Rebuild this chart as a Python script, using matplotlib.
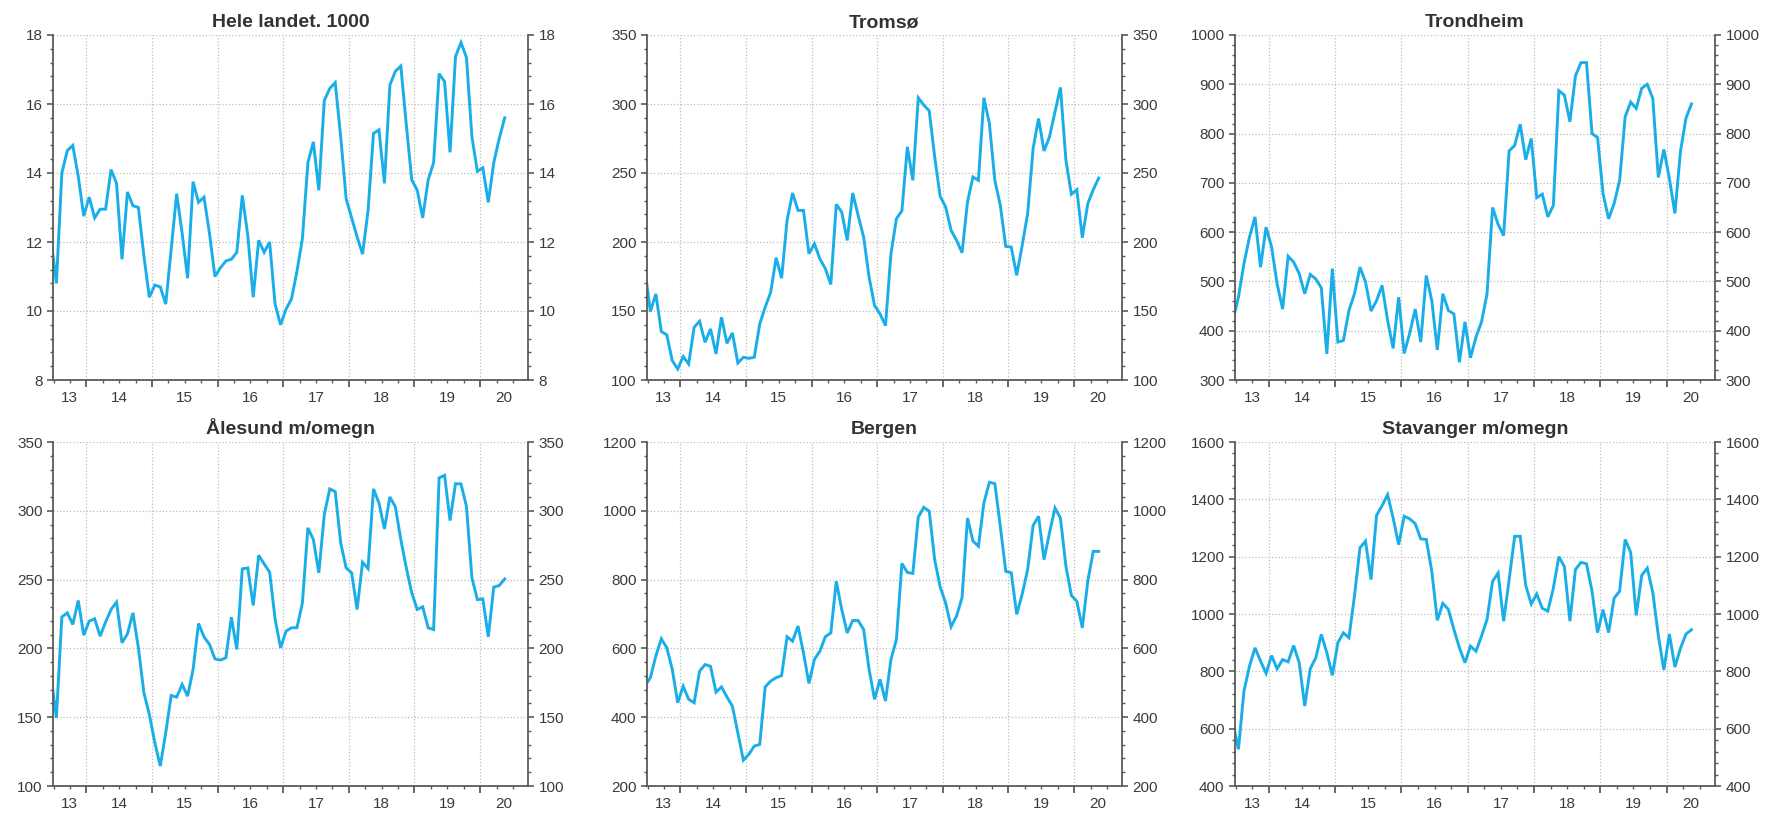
import numpy as np
import pandas as pd
import matplotlib
matplotlib.use('Agg')
import matplotlib.pyplot as plt
from matplotlib.ticker import MultipleLocator, AutoMinorLocator, FixedLocator, NullFormatter

plt.rcParams['font.family'] = ['Liberation Sans', 'DejaVu Sans']

# monthly values, Jun 2013 - May 2020
months = pd.date_range('2013-06-01', periods=84, freq='MS')
x = np.asarray(months.year + (months.month - 0.5) / 12)

hele_landet = [12.1, 10.8, 14.0, 14.65, 14.8, 13.9, 12.75,
               13.3, 12.7, 12.95, 12.95, 14.1, 13.7, 11.5, 13.45, 13.05, 13.0, 11.6, 10.4,
               10.75, 10.7, 10.2, 11.8, 13.4, 12.25, 10.95, 13.75, 13.15, 13.3, 12.25, 11.0,
               11.25, 11.45, 11.5, 11.7, 13.35, 12.2, 10.4, 12.05, 11.7, 12.0, 10.2, 9.6,
               10.05, 10.35, 11.15, 12.1, 14.3, 14.9, 13.5, 16.1, 16.45, 16.62, 15.05, 13.25,
               12.7, 12.15, 11.65, 12.9, 15.15, 15.25, 13.7, 16.55, 16.95, 17.1, 15.4, 13.8,
               13.5, 12.7, 13.8, 14.3, 16.88, 16.65, 14.6, 17.38, 17.78, 17.35, 15.05, 14.05,
               14.15, 13.15, 14.3, 15.0, 15.6]

tromso = [180, 149.6, 162.4, 135.1, 132.7, 114, 108,
          117, 111.6, 138.2, 142.6, 127.3, 137, 118.9, 145.5, 126.6, 134.1, 112.3, 116.5,
          115.7, 116.5, 140.7, 152.8, 163.6, 188.6, 173.8, 215.7, 235.5, 222.9, 222.9, 191.5,
          198.7, 187.8, 180.6, 169.2, 227.3, 221.7, 201.2, 235.5, 219.3, 203.6, 174.5, 154,
          147.9, 139.4, 191.5, 216.9, 222.5, 268.9, 244.7, 304.5, 299.2, 295.1, 261.7, 233.1,
          225.4, 208.4, 201.2, 192.2, 229, 247.1, 244.7, 304.5, 285.9, 244.7, 226.6, 196.8,
          196.3, 175.8, 197.5, 220.5, 267.7, 289.5, 266, 276.2, 294.3, 312, 259.2, 234.6,
          237.9, 203.1, 227.8, 237.9, 246.4]

trondheim = [420, 468, 536, 590, 631, 529, 610,
             570, 495, 444, 551, 539, 516, 475, 514, 505, 487, 353, 526,
             377, 380, 441, 475, 529, 499, 440, 461, 492, 421, 364, 468,
             354, 395, 444, 377, 512, 461, 361, 475, 441, 434, 336, 418,
             345, 387, 418, 475, 650, 616, 593, 765, 776, 819, 747, 790,
             670, 677, 631, 654, 887, 878, 824, 917, 944, 944, 800, 792,
             678, 627, 658, 705, 834, 864, 851, 892, 900, 871, 711, 768,
             709, 638, 763, 831, 860]

alesund = [180, 149.6, 222.9, 225.8, 217.4, 234.8, 209.6,
           219.8, 221.5, 208.9, 219.1, 228.3, 233.6, 204.1, 210.6, 225.8, 200.4, 167.8, 152,
           131.5, 114.5, 138.7, 165.8, 164.6, 173.8, 165.3, 184.7, 218.1, 208.4, 202.9, 192.4,
           191.5, 193.2, 222.7, 199.2, 257.8, 258.5, 231.2, 267.7, 261.4, 255.4, 221.5, 200.4,
           212.5, 215, 215, 233.1, 287.6, 279.1, 254.9, 297.2, 315.9, 313.9, 276.7, 258.5,
           254.9, 228.3, 262.6, 258, 315.9, 305.7, 286.8, 310.1, 302.8, 279.1, 258.5, 240.4,
           228.3, 230.2, 215, 213.7, 323.9, 325.8, 292.9, 319.7, 319.5, 303.3, 251.3, 235.5,
           236, 208.4, 244.5, 245.7, 250.5]

bergen = [490, 515, 578, 628, 602, 539, 442,
          490, 452, 442, 534, 553, 548, 473, 488, 459, 432, 354, 275,
          292, 316, 321, 488, 505, 515, 521, 634, 621, 665, 587, 498,
          568, 592, 634, 645, 795, 713, 645, 681, 681, 655, 539, 452,
          510, 447, 568, 626, 847, 821, 818, 982, 1010, 999, 858, 779,
          732, 663, 694, 747, 979, 912, 897, 1023, 1083, 1079, 955, 824,
          820, 699, 757, 829, 957, 984, 858, 936, 1008, 979, 839, 754,
          737, 660, 795, 882, 882]

stavanger = [620, 528, 731, 818, 882, 836, 793,
             855, 809, 841, 833, 890, 830, 679, 809, 847, 929, 865, 786,
             900, 934, 917, 1062, 1231, 1254, 1120, 1344, 1378, 1416, 1335, 1242,
             1341, 1332, 1315, 1262, 1260, 1149, 978, 1037, 1016, 946, 882, 830,
             888, 870, 923, 981, 1114, 1143, 975, 1120, 1271, 1271, 1100, 1035,
             1070, 1020, 1010, 1090, 1200, 1165, 975, 1155, 1180, 1175, 1080, 935,
             1015, 935, 1055, 1080, 1260, 1215, 995, 1135, 1160, 1075, 925, 805,
             930, 815, 880, 930, 945]

panels = [
    ('Hele landet. 1000', hele_landet, 8, 18, 2),
    ('Tromsø', tromso, 100, 350, 50),
    ('Trondheim', trondheim, 300, 1000, 100),
    ('Ålesund m/omegn', alesund, 100, 350, 50),
    ('Bergen', bergen, 200, 1200, 200),
    ('Stavanger m/omegn', stavanger, 400, 1600, 200),
]

year_labels = ['13', '14', '15', '16', '17', '18', '19', '20']
XMIN, XMAX = 2013.49, 2020.73

W, H = 1774, 816
lefts = [53, 647, 1235]
widths = [475, 475, 480]
rows = [(35, 380), (442, 786)]

LINE = '#19AEE8'
SPINE = '#5a5a5a'
TXT = '#3a3a3a'

fig = plt.figure(figsize=(W / 100, H / 100), dpi=100)

for i, (title, vals, lo, hi, step) in enumerate(panels):
    r, c = divmod(i, 3)
    top, bottom = rows[r]
    ax = fig.add_axes([lefts[c] / W, 1 - bottom / H, widths[c] / W, (bottom - top) / H])
    ax.plot(x, vals, color=LINE, lw=2.1, solid_joinstyle='miter')
    ax.set_xlim(XMIN, XMAX)
    ax.set_ylim(lo, hi)

    ax.yaxis.set_major_locator(MultipleLocator(step))
    ax.yaxis.set_minor_locator(AutoMinorLocator(5))
    ax.xaxis.set_major_locator(FixedLocator(range(2014, 2021)))
    ax.xaxis.set_minor_locator(MultipleLocator(0.25))
    ax.xaxis.set_major_formatter(NullFormatter())

    ax.tick_params(axis='y', which='both', left=True, right=True,
                   labelleft=True, labelright=True, direction='out',
                   color=SPINE, labelcolor=TXT, labelsize=11, pad=3)
    ax.tick_params(axis='y', which='major', length=4.5, width=1.2)
    ax.tick_params(axis='y', which='minor', length=2.2, width=1.0)
    ax.tick_params(axis='x', which='major', length=5, width=1.3, color=SPINE)
    ax.tick_params(axis='x', which='minor', length=2.5, width=1.0, color=SPINE)

    ax.grid(which='major', ls=':', color='#bdbdbd', lw=0.9)
    ax.spines['top'].set_visible(False)
    for s in ['left', 'right', 'bottom']:
        ax.spines[s].set_color(SPINE)
        ax.spines[s].set_linewidth(1.3)

    # year labels centred in the visible part of each year
    for k, lab in enumerate(year_labels):
        y0 = max(2013 + k, XMIN)
        y1 = min(2014 + k, XMAX)
        ax.annotate(lab, xy=((y0 + y1) / 2, 0), xycoords=('data', 'axes fraction'),
                    xytext=(0, -8), textcoords='offset points',
                    ha='center', va='top', fontsize=11, color=TXT)

    ax.set_title(title, fontsize=14, fontweight='bold', color='#333333', pad=5.5)

fig.savefig('out.png', dpi=100)
